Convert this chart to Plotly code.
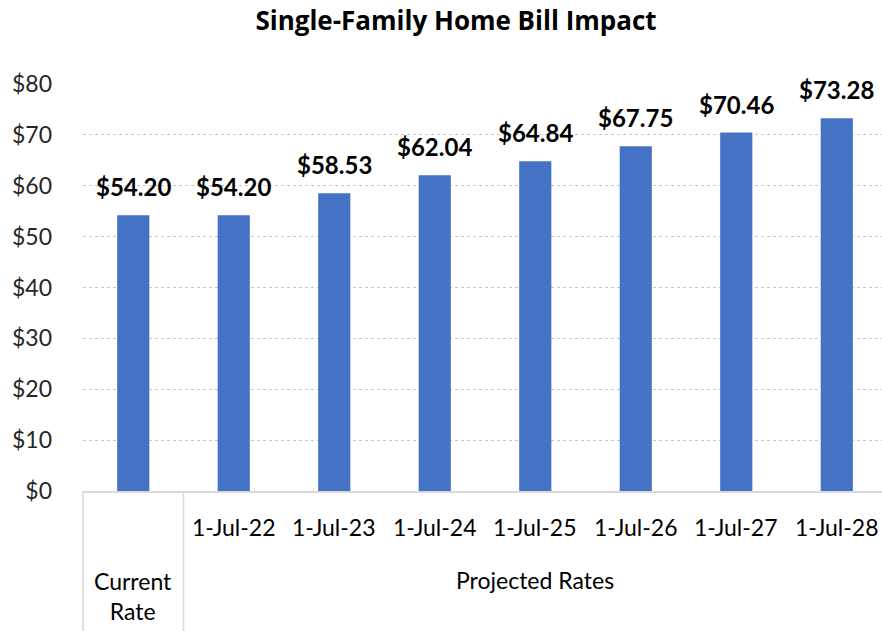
import plotly.graph_objects as go

categories = ["Current Rate", "1-Jul-22", "1-Jul-23", "1-Jul-24", "1-Jul-25", "1-Jul-26", "1-Jul-27", "1-Jul-28"]
values = [54.20, 54.20, 58.53, 62.04, 64.84, 67.75, 70.46, 73.28]
group_labels = ["Current<br>Rate", "Projected Rates"]
y_ticks = [0, 10, 20, 30, 40, 50, 60, 70, 80]

FONT = "Lato"
xs = list(range(len(categories)))

W, H = 882, 631
PLOT_TOP, PLOT_BOTTOM = 84, 491
PLOT_H = PLOT_BOTTOM - PLOT_TOP


def py(pix_y):
    return (PLOT_BOTTOM - pix_y) / PLOT_H


fig = go.Figure()
fig.add_trace(go.Bar(
    x=xs, y=values, width=0.32,
    marker=dict(color="#4472C4", line=dict(width=0)),
    hovertemplate="%{customdata}: $%{y:.2f}<extra></extra>",
    customdata=categories,
))

annotations = []
# value labels above the bars
for x, v in zip(xs, values):
    annotations.append(dict(x=x, y=v, xref="x", yref="y", text=f"<b>${v:.2f}</b>", showarrow=False,
                            yanchor="bottom", yshift=12,
                            font=dict(family=FONT, size=24, color="#000000")))
for i, c in enumerate(categories[1:], start=1):
    annotations.append(dict(x=i, y=py(527), xref="x", yref="paper", text=c, showarrow=False,
                            yanchor="middle", font=dict(family=FONT, size=23, color="#000000")))
annotations.append(dict(x=0, y=py(596), xref="x", yref="paper", text=group_labels[0], showarrow=False,
                        yanchor="middle", align="center", font=dict(family=FONT, size=23, color="#000000")))
annotations.append(dict(x=4, y=py(580), xref="x", yref="paper", text=group_labels[1], showarrow=False,
                        yanchor="middle", font=dict(family=FONT, size=23, color="#000000")))

shapes = [
    dict(type="line", xref="paper", yref="paper", x0=0, x1=0, y0=0, y1=py(H),
         line=dict(color="#d9d9d9", width=1.5)),
    dict(type="line", xref="x", yref="paper", x0=0.5, x1=0.5, y0=0, y1=py(H),
         line=dict(color="#d9d9d9", width=1.5)),
]

fig.update_layout(
    width=W, height=H,
    margin=dict(l=83, r=0, t=PLOT_TOP, b=H - PLOT_BOTTOM, autoexpand=False),
    plot_bgcolor="white", paper_bgcolor="white",
    title=dict(text="<b>Single-Family Home Bill Impact</b>", x=456 / W, xanchor="center",
               y=1 - 21 / H, yanchor="middle",
               font=dict(family="Open Sans", size=26, color="#000000")),
    showlegend=False,
    xaxis=dict(range=[-0.5, 7.45], showticklabels=False, showgrid=False, zeroline=False,
               showline=True, linecolor="#d9d9d9", linewidth=1.5, fixedrange=True),
    yaxis=dict(range=[0, 80], tickvals=y_ticks, ticktext=[f"${t}" for t in y_ticks],
               showgrid=True, gridcolor="#c8c8c8", griddash="dot", gridwidth=1,
               zeroline=False, showline=False, ticks="", ticklen=0,
               tickfont=dict(family=FONT, size=23, color="#262626"), ticklabelstandoff=30),
    annotations=annotations,
    shapes=shapes,
)

fig.write_html("out.html", config={"displayModeBar": False},
               post_script="document.body.style.margin='0';")
